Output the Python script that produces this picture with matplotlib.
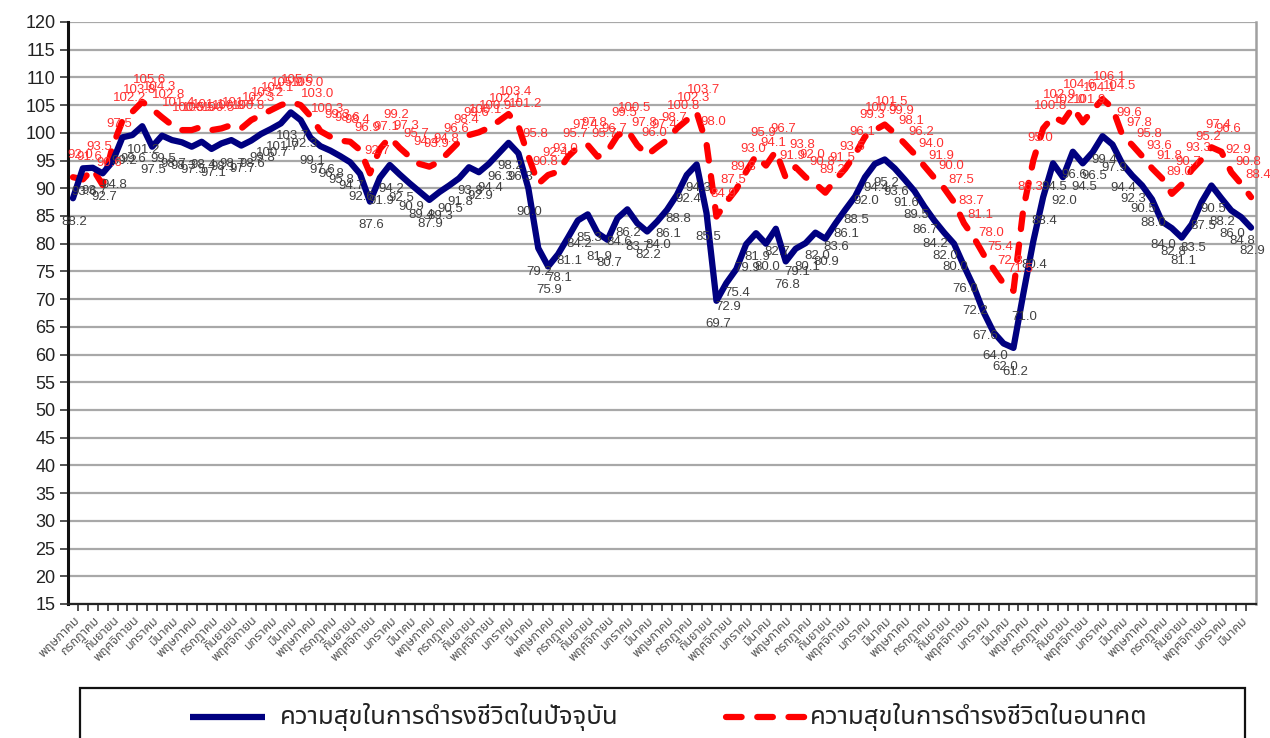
import matplotlib
matplotlib.use('Agg')
import matplotlib.pyplot as plt
from matplotlib import font_manager
from matplotlib.lines import Line2D
from matplotlib.patches import Rectangle

# ---------------- data ----------------
month_cycle = ["พฤษภาคม", "มิถุนายน", "กรกฎาคม", "สิงหาคม", "กันยายน", "ตุลาคม",
               "พฤศจิกายน", "ธันวาคม", "มกราคม", "กุมภาพันธ์", "มีนาคม", "เมษายน"]
categories = [month_cycle[i % 12] for i in range(120)]

present = [88.2, 93.6, 93.7, 92.7, 94.8, 99.2, 99.6, 101.2, 97.5, 99.5,
           98.7, 98.3, 97.5, 98.4, 97.1, 98.1, 98.7, 97.7, 98.6, 99.8,
           100.7, 101.7, 103.7, 102.3, 99.1, 97.6, 96.8, 95.8, 94.7, 92.6,
           87.6, 91.9, 94.2, 92.5, 90.9, 89.4, 87.9, 89.3, 90.5, 91.8,
           93.8, 92.9, 94.4, 96.3, 98.2, 96.3, 90.0, 79.2, 75.9, 78.1,
           81.1, 84.2, 85.3, 81.9, 80.7, 84.6, 86.2, 83.7, 82.2, 84.0,
           86.1, 88.8, 92.4, 94.3, 85.5, 69.7, 72.9, 75.4, 79.9, 81.9,
           80.0, 82.7, 76.8, 79.1, 80.1, 82.0, 80.9, 83.6, 86.1, 88.5,
           92.0, 94.4, 95.2, 93.6, 91.6, 89.5, 86.7, 84.2, 82.0, 80.0,
           76.0, 72.2, 67.6, 64.0, 62.0, 61.2, 71.0, 80.4, 88.4, 94.5,
           92.0, 96.6, 94.5, 96.5, 99.4, 97.9, 94.4, 92.3, 90.5, 88.0,
           84.0, 82.8, 81.1, 83.5, 87.5, 90.5, 88.2, 86.0, 84.8, 82.9]

future = [92.0, 91.6, 93.5, 90.6, 97.5, 102.2, 103.8, 105.6, 104.3, 102.8,
          101.4, 100.5, 100.5, 101.1, 100.5, 100.8, 101.4, 100.8, 102.3, 103.2,
          104.1, 105.0, 105.6, 105.0, 103.0, 100.3, 99.3, 98.6, 98.4, 96.9,
          92.7, 97.1, 99.2, 97.3, 95.7, 94.4, 93.9, 94.8, 96.6, 98.4,
          99.6, 100.1, 100.9, 102.1, 103.4, 101.2, 95.8, 90.8, 92.4, 93.0,
          95.7, 97.4, 97.8, 95.7, 96.7, 99.5, 100.5, 97.8, 96.0, 97.4,
          98.7, 100.8, 102.3, 103.7, 98.0, 84.9, 87.5, 89.8, 93.0, 95.9,
          94.1, 96.7, 91.9, 93.8, 92.0, 90.8, 89.2, 91.5, 93.5, 96.1,
          99.3, 100.5, 101.5, 99.9, 98.1, 96.2, 94.0, 91.9, 90.0, 87.5,
          83.7, 81.1, 78.0, 75.4, 72.8, 71.5, 86.3, 95.0, 100.8, 102.9,
          102.0, 104.6, 101.9, 104.1, 106.1, 104.5, 99.6, 97.8, 95.8, 93.6,
          91.8, 89.0, 90.7, 93.3, 95.2, 97.4, 96.6, 92.9, 90.8, 88.4]

series_names = ["ความสุขในการดำรงชีวิตในปัจจุบัน", "ความสุขในการดำรงชีวิตในอนาคต"]
y_ticks = list(range(15, 121, 5))


# ---------------- fonts ----------------
def find_thai_font():
    try:
        from fontTools.ttLib import TTFont
    except Exception:
        return None
    need = [0x0E01, 0x0E33, 0x0E38, 0x0E35]
    good = []
    for f in font_manager.fontManager.ttflist:
        try:
            tt = TTFont(f.fname, fontNumber=0, lazy=True)
            cmap = tt.getBestCmap()
            if cmap and all(c in cmap for c in need):
                good.append(f.name)
        except Exception:
            continue
    prefs = ['Noto Sans Thai', 'Noto Sans Thai UI', 'Noto Sans Thai Looped', 'Loma',
             'Garuda', 'Sawasdee', 'Umpush', 'Waree', 'Tlwg Typist', 'Kinnari',
             'DejaVu Sans', 'FreeSans']
    for p in prefs:
        if p in good:
            return p
    return good[0] if good else None


thai = find_thai_font()
num_font = 'Liberation Sans'
fam_thai = [thai, 'DejaVu Sans'] if thai else ['DejaVu Sans']
plt.rcParams['font.family'] = [num_font, 'DejaVu Sans']

# ---------------- figure ----------------
W, H = 1270, 738
fig = plt.figure(figsize=(W / 100, H / 100), dpi=100)
L, R, T, B = 68, 1256, 22, 604
ax = fig.add_axes([L / W, 1 - B / H, (R - L) / W, (B - T) / H])

x = list(range(len(categories)))
blue = '#000080'
red = '#ff0000'

ax.plot(x, present, color=blue, lw=4.5, solid_joinstyle='round',
        solid_capstyle='round', zorder=4)
ax.plot(x, future, color=red, lw=4.5, dashes=[2.5, 2.5],
        dash_capstyle='round', dash_joinstyle='round', zorder=3)

for xi, v in zip(x, present):
    ax.annotate(f"{v:.1f}", (xi, v), xytext=(1, -17), textcoords='offset points',
                ha='center', va='center', fontsize=9.5, color='#404040',
                family=[num_font], zorder=6)
for xi, v in zip(x, future):
    ax.annotate(f"{v:.1f}", (xi, v), xytext=(5, 16), textcoords='offset points',
                ha='center', va='center', fontsize=9.5, color='#ff3030',
                family=[num_font], zorder=6)

ax.set_ylim(15, 120)
ax.set_xlim(-0.5, len(categories) - 0.5)
ax.set_yticks(y_ticks)
ax.set_yticklabels([str(t) for t in y_ticks], fontsize=13, color='#222222')
ax.yaxis.grid(True, color='#a8a8a8', lw=1.6, zorder=0)
ax.set_axisbelow(True)
ax.tick_params(axis='y', length=6, width=1.2, color='#333333', pad=3)

ax.set_xticks(x)
ax.set_xticklabels([c if i % 2 == 0 else '' for i, c in enumerate(categories)],
                   rotation=45, ha='right', va='top', rotation_mode='anchor',
                   fontsize=9, color='#555555', family=fam_thai)
ax.tick_params(axis='x', which='major', length=0, pad=7)
ax.set_xticks([i + 0.5 for i in x[:-1]], minor=True)
ax.tick_params(axis='x', which='minor', length=5, width=1.1, color='#222222',
               direction='out')

ax.spines['top'].set_visible(False)
ax.spines['left'].set_color('#111111')
ax.spines['left'].set_linewidth(2.2)
ax.spines['bottom'].set_color('#222222')
ax.spines['bottom'].set_linewidth(1.6)
ax.spines['right'].set_color('#a0a0a0')
ax.spines['right'].set_linewidth(1.8)

# ---------------- legend (box cut by bottom edge) ----------------
fig.patches.append(Rectangle((80 / W, -0.2), (1245 - 80) / W, 0.2 + 1 - 688 / H,
                             transform=fig.transFigure, fill=False,
                             edgecolor='#111111', lw=1.6))
ly = 1 - 717 / H
fig.lines.append(Line2D([190 / W, 265 / W], [ly, ly], transform=fig.transFigure,
                        color=blue, lw=4.5, solid_capstyle='butt'))
fig.lines.append(Line2D([726 / W, 806 / W], [ly, ly], transform=fig.transFigure,
                        color=red, lw=4.5, dashes=[2.5, 2.5], dash_capstyle='round'))
fig.text(280 / W, ly, series_names[0], ha='left', va='center', fontsize=18.5,
         color='#222222', family=fam_thai)
fig.text(810 / W, ly, series_names[1], ha='left', va='center', fontsize=18.5,
         color='#222222', family=fam_thai)

fig.savefig('out.png', dpi=100)
